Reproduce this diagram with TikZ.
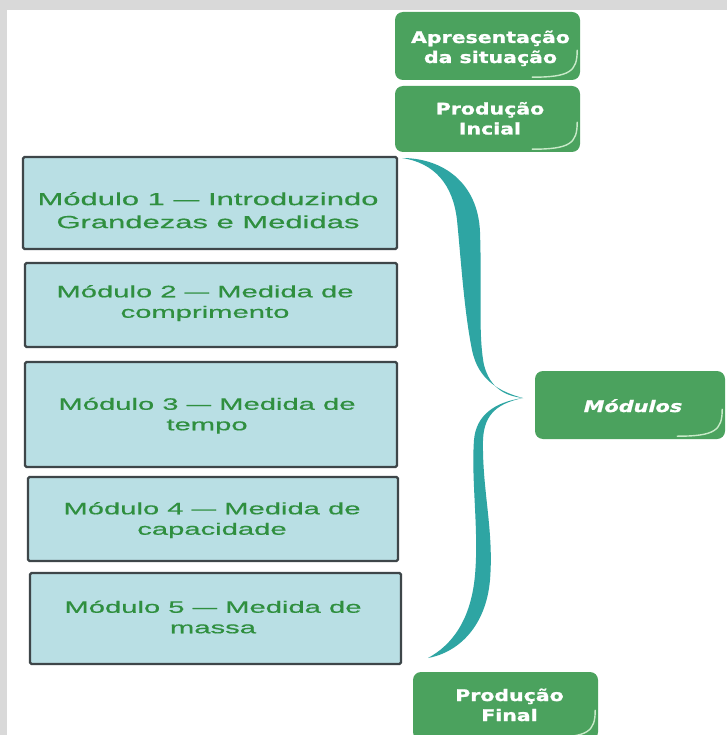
\documentclass[tikz,border=0pt]{standalone}
\usepackage{fontspec}
\newfontfamily\modfont[FakeStretch=1.77,FakeBold=0.6]{Liberation Sans}
\newfontfamily\gfont[FakeStretch=1.28,FakeBold=1.2]{DejaVu Sans Bold}
\newfontfamily\gfontit[FakeStretch=1.3,FakeBold=1.2]{DejaVu Sans Bold Oblique}
\newcommand{\mdash}{\scalebox{1.5}[1]{–}}
\definecolor{bggray}{HTML}{D9D9D9}
\definecolor{boxfill}{HTML}{B9DFE4}
\definecolor{boxline}{HTML}{3E4649}
\definecolor{textgreen}{HTML}{2F8F3F}
\definecolor{ggreen}{HTML}{4BA25E}
\definecolor{bracecol}{HTML}{2EA5A3}
\definecolor{curlcol}{HTML}{C8EAC8}
\tikzset{
  modbox/.style={draw=boxline, line width=2.2pt, fill=boxfill, rounded corners=1.5pt, inner sep=0pt},
  modtext/.style={font=\modfont\fontsize{16.5}{20.5}\selectfont, text=textgreen, align=center, inner sep=0pt},
  gbox/.style={fill=ggreen, rounded corners=8pt, inner sep=0pt, minimum width=185pt, minimum height=67pt},
  gtext/.style={font=\gfont\fontsize{16}{20}\selectfont, text=white, align=center, inner sep=0pt},
  curl/.style={draw=curlcol, line width=1.4pt, line cap=round}
}
\begin{document}
\begin{tikzpicture}[x=1pt,y=-1pt]
\useasboundingbox (0,0) rectangle (727,735);
\fill[bggray] (0,0) rectangle (727,735);
\fill[white] (7,10) rectangle (727,735);

% module boxes
\node[modbox, minimum width=374pt, minimum height=92pt] (m1) at (210,203) {};
\node[modbox, minimum width=372pt, minimum height=84pt] (m2) at (211,305) {};
\node[modbox, minimum width=372pt, minimum height=105pt] (m3) at (211,414.5) {};
\node[modbox, minimum width=370pt, minimum height=84pt] (m4) at (213,519) {};
\node[modbox, minimum width=371pt, minimum height=91pt] (m5) at (215.5,618.5) {};

\node[modtext, font=\modfont\fontsize{17.5}{23}\selectfont] (t1) at (208,212) {\strut Módulo 1 \mdash{} Introduzindo\\\strut Grandezas e Medidas};
\node[modtext] (t2) at (205,303.4) {\strut Módulo 2 \mdash{} Medida de\\\strut comprimento};
\node[modtext] (t3) at (207,415.9) {\strut Módulo 3 \mdash{} Medida de\\\strut tempo};
\node[modtext] (t4) at (212,520.4) {\strut Módulo 4 \mdash{} Medida de\\\strut capacidade};
\node[modtext] (t5) at (213,618.9) {\strut Módulo 5 \mdash{} Medida de\\\strut massa};

% green boxes
\node[gbox, minimum height=68pt] (g1) at (487.5,46) {};
\node[gbox, minimum height=66pt] (g2) at (487.5,119) {};
\node[gbox, minimum width=190pt, minimum height=68pt] (g3) at (630,405) {};
\node[gbox, minimum height=68pt] (g4) at (505.5,706) {};

\foreach \g in {g1,g2,g3,g4}{
  \draw[curl] ([xshift=-48pt,yshift=3pt]\g.south east) .. controls ([xshift=-10pt,yshift=3pt]\g.south east) and ([xshift=-3pt,yshift=9pt]\g.south east) .. ([xshift=-3pt,yshift=30pt]\g.south east);
}

\node[gtext] (gt1) at (490.5,49) {\strut Apresentação\\\strut da situação};
\node[gtext] (gt2) at (490,120.5) {\strut Produção\\\strut Incial};
\node[gtext, font=\gfontit\fontsize{16}{20}\selectfont] (gt3) at (633,408) {\strut Módulos};
\node[gtext] (gt4) at (509.5,707) {\strut Produção\\\strut Final};

% brace
\fill[bracecol] (402,158) .. controls (442,158) and (478,182) .. (480,232)
  .. controls (482,290) and (478,335) .. (484,365)
  .. controls (490,388) and (505,396) .. (523,398)
  .. controls (500,392) and (478,380) .. (472,350)
  .. controls (464,310) and (461,260) .. (457,220)
  .. controls (453,185) and (435,163) .. (402,158) -- cycle;
\fill[bracecol] (523,398) .. controls (500,403) and (484,412) .. (483,440)
  .. controls (482,490) and (494,530) .. (490,580)
  .. controls (486,625) and (460,652) .. (428,658)
  .. controls (452,645) and (471,620) .. (475,575)
  .. controls (479,530) and (471,480) .. (474,440)
  .. controls (476,415) and (495,402) .. (523,398) -- cycle;
\end{tikzpicture}
\end{document}
